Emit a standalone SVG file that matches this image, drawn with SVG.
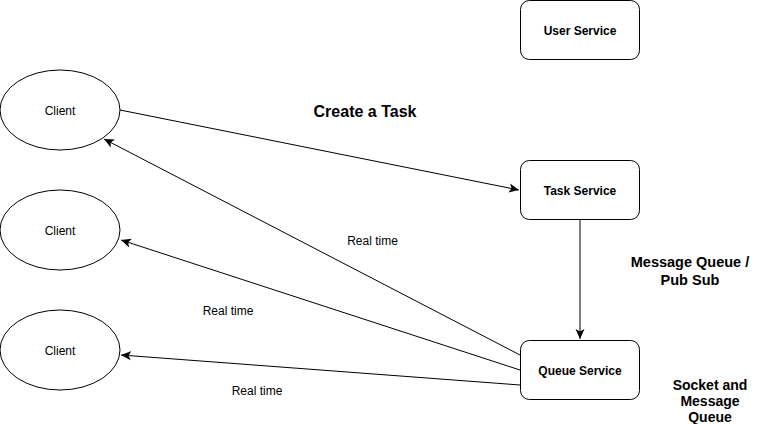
<svg xmlns="http://www.w3.org/2000/svg" width="761" height="424" viewBox="0 0 761 424">
<style>
.node{fill:#ffffff;stroke:#000000;stroke-width:1}
.lbl{font-family:"Liberation Sans",Arial,sans-serif;fill:#000000;text-anchor:middle}
.n{font-size:12px}
.b{font-size:12px;font-weight:bold}
.big{font-size:14px;font-weight:bold}
.edge{fill:none;stroke:#000000;stroke-width:1;marker-end:url(#arr)}
</style>
<defs>
<marker id="arr" markerUnits="userSpaceOnUse" markerWidth="12" markerHeight="10" refX="10" refY="4.5" orient="auto" viewBox="0 0 12 9">
<path d="M0,0 L10,4.5 L0,9 L2.5,4.5 Z" fill="#000000"/>
</marker>
</defs>
<rect width="761" height="424" fill="#ffffff"/>
<g id="connectors">
<line class="edge" x1="120" y1="110" x2="519" y2="190"/>
<line class="edge" x1="580" y1="220" x2="580" y2="339"/>
<line class="edge" x1="520" y1="355" x2="104" y2="139"/>
<line class="edge" x1="520" y1="370" x2="121" y2="240"/>
<line class="edge" x1="520" y1="385" x2="121" y2="355"/>
</g>
<g id="user-service">
<rect class="node" x="520.5" y="0.5" width="119" height="59" rx="9"/>
<text class="lbl b" x="580" y="34.5">User Service</text>
</g>
<g id="task-service">
<rect class="node" x="520.5" y="160.5" width="119" height="59" rx="9"/>
<text class="lbl b" x="580" y="194.5">Task Service</text>
</g>
<g id="queue-service">
<rect class="node" x="520.5" y="340.5" width="119" height="59" rx="9"/>
<text class="lbl b" x="580" y="374.5">Queue Service</text>
</g>
<g id="client-1">
<ellipse class="node" cx="60" cy="110" rx="60" ry="40"/>
<text class="lbl n" x="60" y="114.5">Client</text>
</g>
<g id="client-2">
<ellipse class="node" cx="60" cy="230" rx="60" ry="40"/>
<text class="lbl n" x="60" y="234.5">Client</text>
</g>
<g id="client-3">
<ellipse class="node" cx="60" cy="350" rx="60" ry="40"/>
<text class="lbl n" x="60" y="354.5">Client</text>
</g>
<g id="labels">
<text class="lbl" x="365" y="117" style="font-size:16px;font-weight:bold">Create a Task</text>
<text class="lbl n" x="372.5" y="245">Real time</text>
<text class="lbl n" x="228" y="315">Real time</text>
<text class="lbl n" x="257" y="395">Real time</text>
<text class="lbl big" x="690" y="267" style="font-size:14.5px">Message Queue /</text>
<text class="lbl big" x="690" y="285" style="font-size:14.5px">Pub Sub</text>
<text class="lbl big" x="710" y="390">Socket and</text>
<text class="lbl big" x="710" y="406">Message</text>
<text class="lbl big" x="710" y="422">Queue</text>
</g>
</svg>
